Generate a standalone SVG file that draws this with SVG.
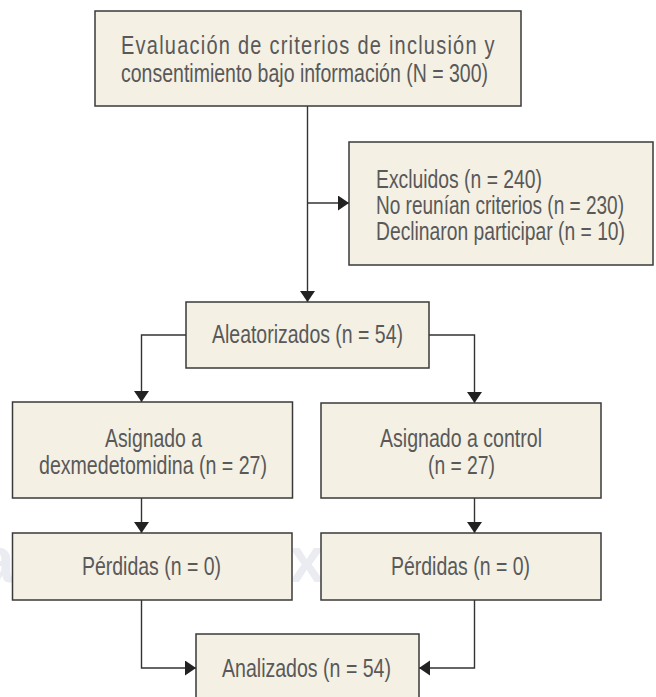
<svg xmlns="http://www.w3.org/2000/svg" width="656" height="697" viewBox="0 0 656 697">
  <defs>
    <style>
      .box { fill: #f4f0e4; stroke: #3a3a3a; stroke-width: 1.5; }
      .lbl { font-family: "Liberation Sans", Arial, sans-serif; font-size: 25px; fill: #595959; }
      .wm { font-family: "Liberation Sans", Arial, sans-serif; font-size: 64px; font-weight: bold; fill: #eaecf1; }
      .conn path { fill: none; stroke: #333333; stroke-width: 1.4; }
    </style>
    <marker id="arrow" markerUnits="userSpaceOnUse" markerWidth="12" markerHeight="16" refX="11" refY="7.5" orient="auto" viewBox="0 0 12 16">
      <path d="M0,0 L11,7.5 L0,15 Z" fill="#222222"/>
    </marker>
  </defs>
  <rect width="656" height="697" fill="#ffffff"/>

  <g id="watermark">
    <text class="wm" x="-21" y="582">a</text>
    <text class="wm" x="289" y="582">x</text>
  </g>

  <g id="connectors" class="conn">
    <path d="M307.5,106 L307.5,302" marker-end="url(#arrow)"/>
    <path d="M307.5,203 L349,203" marker-end="url(#arrow)"/>
    <path d="M186,335 L141.5,335 L141.5,402" marker-end="url(#arrow)"/>
    <path d="M429,335 L474.5,335 L474.5,403" marker-end="url(#arrow)"/>
    <path d="M141.5,498 L141.5,533" marker-end="url(#arrow)"/>
    <path d="M474.5,498 L474.5,533" marker-end="url(#arrow)"/>
    <path d="M141.5,600 L141.5,668 L196,668" marker-end="url(#arrow)"/>
    <path d="M474.5,600 L474.5,668 L419,668" marker-end="url(#arrow)"/>
  </g>

  <g id="n-evaluacion">
    <rect class="box" x="95" y="11" width="426" height="95"/>
    <g transform="translate(121,54) scale(0.8,1)">
      <text class="lbl" x="0" y="0" textLength="467" lengthAdjust="spacing">Evaluación de criterios de inclusión y</text>
    </g>
    <text class="lbl" x="121" y="82" textLength="367" lengthAdjust="spacingAndGlyphs">consentimiento bajo información (N = 300)</text>
  </g>

  <g id="n-excluidos">
    <rect class="box" x="349" y="142" width="304" height="123"/>
    <text class="lbl" x="376" y="188" textLength="166" lengthAdjust="spacingAndGlyphs">Excluidos (n = 240)</text>
    <text class="lbl" x="376" y="214" textLength="248" lengthAdjust="spacingAndGlyphs">No reunían criterios (n = 230)</text>
    <text class="lbl" x="376" y="240" textLength="249" lengthAdjust="spacingAndGlyphs">Declinaron participar (n = 10)</text>
  </g>

  <g id="n-aleatorizados">
    <rect class="box" x="186" y="302" width="243" height="66"/>
    <text class="lbl" x="212" y="343" textLength="191" lengthAdjust="spacingAndGlyphs">Aleatorizados (n = 54)</text>
  </g>

  <g id="n-dexmedetomidina">
    <rect class="box" x="12.5" y="402" width="280" height="96"/>
    <text class="lbl" x="105" y="447" textLength="97" lengthAdjust="spacingAndGlyphs">Asignado a</text>
    <text class="lbl" x="39" y="474" textLength="228" lengthAdjust="spacingAndGlyphs">dexmedetomidina (n = 27)</text>
  </g>

  <g id="n-control">
    <rect class="box" x="321" y="403" width="280" height="95"/>
    <text class="lbl" x="380" y="447" textLength="162" lengthAdjust="spacingAndGlyphs">Asignado a control</text>
    <text class="lbl" x="428" y="474" textLength="67" lengthAdjust="spacingAndGlyphs">(n = 27)</text>
  </g>

  <g id="n-perdidas-1">
    <rect class="box" x="12.5" y="533" width="279.5" height="67"/>
    <text class="lbl" x="82" y="575" textLength="139" lengthAdjust="spacingAndGlyphs">Pérdidas (n = 0)</text>
  </g>

  <g id="n-perdidas-2">
    <rect class="box" x="321" y="533" width="280" height="67"/>
    <text class="lbl" x="391" y="575" textLength="139" lengthAdjust="spacingAndGlyphs">Pérdidas (n = 0)</text>
  </g>

  <g id="n-analizados">
    <rect class="box" x="196" y="634" width="223" height="70"/>
    <text class="lbl" x="222" y="677" textLength="169" lengthAdjust="spacingAndGlyphs">Analizados (n = 54)</text>
  </g>
</svg>
